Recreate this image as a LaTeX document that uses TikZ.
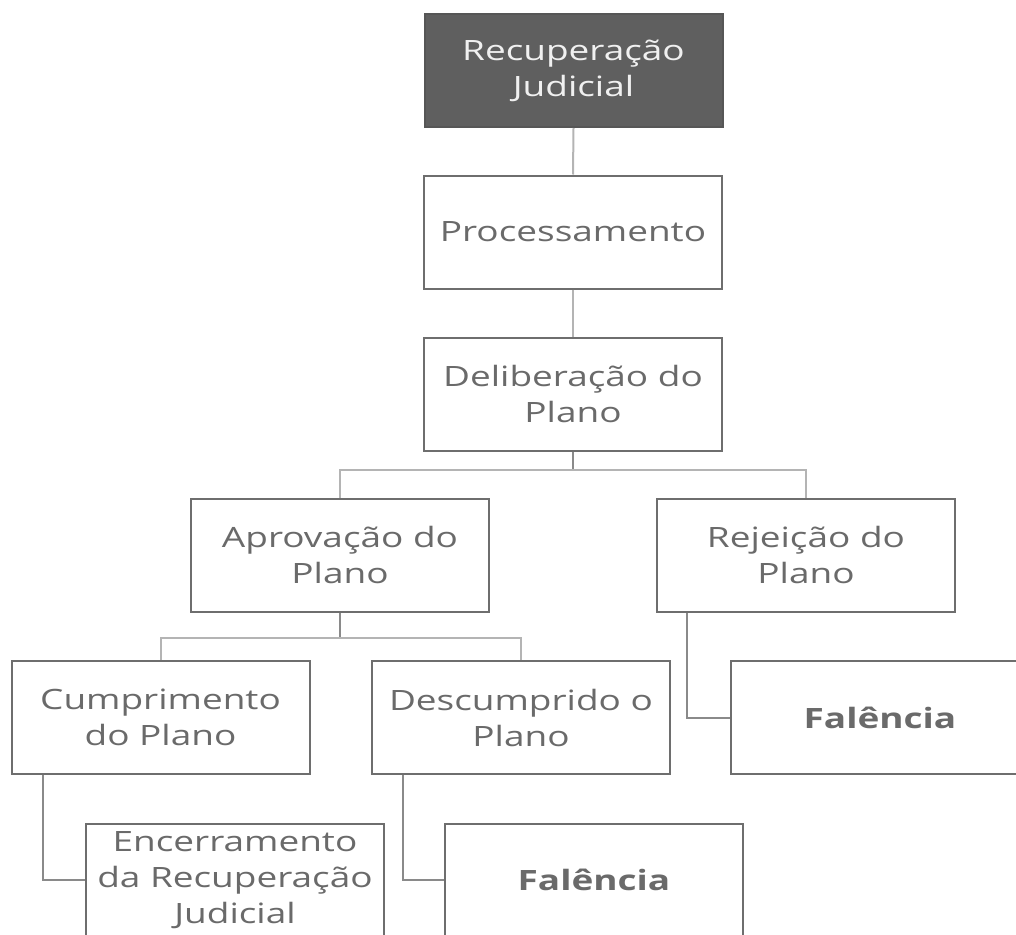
\documentclass[tikz,border=0pt]{standalone}
\usepackage{fontspec}
\setmainfont{Open Sans}[FakeStretch=1.32]
\definecolor{boxline}{HTML}{6E6E6E}
\definecolor{txt}{HTML}{6A6A6A}
\definecolor{conn}{HTML}{B4B4B4}
\definecolor{stub}{HTML}{8A8A8A}
\definecolor{topfill}{HTML}{5F5F5F}
\tikzset{
  box/.style={draw=boxline, line width=2pt, fill=white, minimum width=298pt, minimum height=113pt,
    align=center, text=txt, font=\fontsize{28}{36}\selectfont, inner sep=0pt},
  topbox/.style={box, fill=topfill, draw=topfill!90!black, text=white!94!black},
  link/.style={draw=conn, line width=2pt},
  stublink/.style={draw=stub, line width=2pt}
}
\begin{document}
\begin{tikzpicture}[x=1pt,y=-1pt]
\useasboundingbox (0,0) rectangle (1016,934);
\node[topbox] (rj) at (573.5,70.5) {Recuperação\\Judicial};
\node[box] (proc) at (573,232) {Processamento};
\node[box] (delib) at (573,394) {Deliberação do\\Plano};
\node[box] (aprov) at (340,555) {Aprovação do\\Plano};
\node[box] (rejei) at (806,555) {Rejeição do\\Plano};
\node[box] (cump) at (160.5,717.5) {Cumprimento\\do Plano};
\node[box] (descump) at (521,717.5) {Descumprido o\\Plano};
\node[box] (fal1) at (880,717.5) {\textbf{Falência}};
\node[box] (enc) at (235,880) {Encerramento\\da Recuperação\\Judicial};
\node[box] (fal2) at (594,880) {\textbf{Falência}};
\coordinate (j1) at (573,470);
\coordinate (j2) at (340,638);
\draw[link] (rj.south) -- (proc.north);
\draw[link] (proc.south) -- (delib.north);
\draw[stublink] (delib.south) -- (j1);
\draw[link] (j1) -| (aprov.north);
\draw[link] (j1) -| (rejei.north);
\draw[stublink] (aprov.south) -- (j2);
\draw[link] (j2) -| (cump.north);
\draw[link] (j2) -| (descump.north);
\draw[stublink] ([xshift=31pt]rejei.south west) |- (fal1.west);
\draw[stublink] ([xshift=32pt]cump.south west) |- (enc.west);
\draw[stublink] ([xshift=32pt]descump.south west) |- (fal2.west);
\end{tikzpicture}
\end{document}
